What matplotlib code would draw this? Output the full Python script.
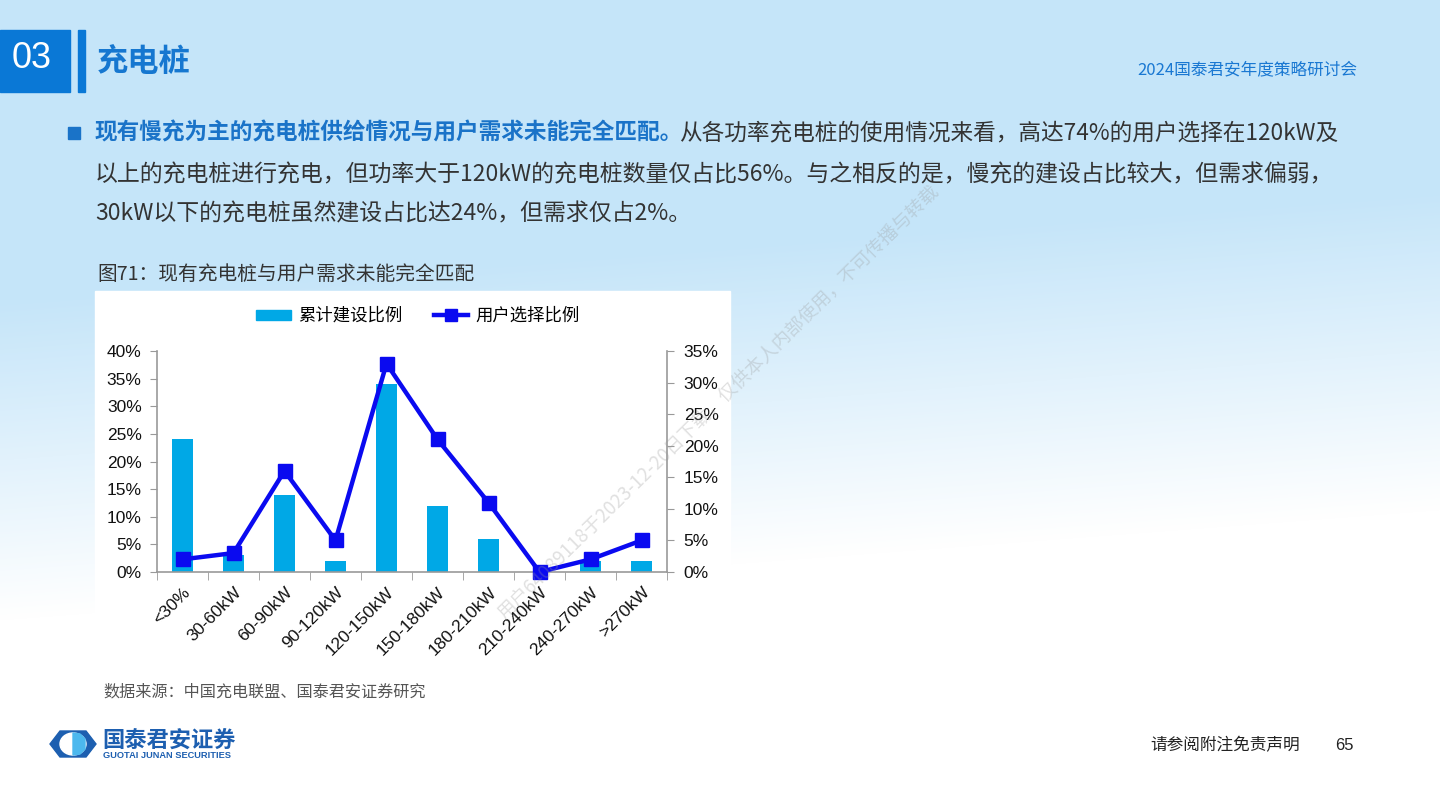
import matplotlib
matplotlib.use('Agg')
import matplotlib.pyplot as plt
import numpy as np
from matplotlib.patches import Rectangle, Polygon, Ellipse, Patch
from matplotlib.lines import Line2D

# ---------------- data ----------------
categories = ['<30%', '30-60kW', '60-90kW', '90-120kW', '120-150kW',
              '150-180kW', '180-210kW', '210-240kW', '240-270kW', '>270kW']
build_share = [24, 3, 14, 2, 34, 12, 6, 0, 2, 2]      # 累计建设比例 (left axis, %)
user_share = [2, 3, 16, 5, 33, 21, 11, 0, 2, 5]       # 用户选择比例 (right axis, %)
left_ticks = [0, 5, 10, 15, 20, 25, 30, 35, 40]
right_ticks = [0, 5, 10, 15, 20, 25, 30, 35]
series_names = ['累计建设比例', '用户选择比例']

CJK = ['Noto Sans CJK SC', 'DejaVu Sans']
LAT = ['Liberation Sans', 'DejaVu Sans']
plt.rcParams['font.family'] = CJK

W, H = 1440, 810
fig = plt.figure(figsize=(14.4, 8.1), dpi=100)

# ---------------- background ----------------
bg = fig.add_axes([0, 0, 1, 1])
bg.set_axis_off()
yy = np.arange(H)[:, None].astype(float)
xf = np.linspace(0, 1, W)[None, :]
start = 300 - 110 * xf
t = np.clip((yy - start) / 320.0, 0, 1)
top = np.array([197, 229, 249]) / 255.0
img = top[None, None, :] * (1 - t[..., None]) + np.ones(3)[None, None, :] * t[..., None]
bg.imshow(img, extent=[0, W, H, 0], aspect='auto', zorder=0)
bg.set_xlim(0, W)
bg.set_ylim(H, 0)

blue = '#0a78d6'
# header
bg.add_patch(Rectangle((0, 30), 70, 62, color=blue, zorder=2))
bg.add_patch(Rectangle((78, 30), 7, 62, color=blue, zorder=2))
bg.text(32, 59, '03', color='white', fontsize=26, family=LAT, ha='center', va='center', zorder=3)
bg.text(97, 62, '充电桩', color='#1677d0', fontsize=22.5, fontweight='bold', ha='left', va='center', zorder=3)
bg.text(1357, 70, '2024国泰君安年度策略研讨会', color='#1a78d2', fontsize=12, ha='right', va='center', zorder=3)

# bullet text
bg.add_patch(Rectangle((68, 127), 12, 12, color='#1a73c8', zorder=2))
fs_body = 16.3
t1 = bg.text(95, 133, '现有慢充为主的充电桩供给情况与用户需求未能完全匹配。', color='#1a73c8',
             fontsize=fs_body, fontweight='bold', ha='left', va='center', zorder=3)
fig.canvas.draw()
r = fig.canvas.get_renderer()
bb = t1.get_window_extent(r)
xe = bg.transData.inverted().transform((bb.x1, bb.y0))[0]
bg.text(xe - 4, 133, '从各功率充电桩的使用情况来看，高达74%的用户选择在120kW及', color='#333333',
        fontsize=fs_body, ha='left', va='center', zorder=3)
bg.text(95, 175, '以上的充电桩进行充电，但功率大于120kW的充电桩数量仅占比56%。与之相反的是，慢充的建设占比较大，但需求偏弱，',
        color='#333333', fontsize=16.5, ha='left', va='center', zorder=3)
bg.text(95, 214, '30kW以下的充电桩虽然建设占比达24%，但需求仅占2%。', color='#333333',
        fontsize=16.5, ha='left', va='center', zorder=3)

# chart title
bg.text(97, 274, '图71：现有充电桩与用户需求未能完全匹配', color='#333333', fontsize=14.2,
        fontweight='medium', ha='left', va='center', zorder=3)
# white chart box
bg.add_patch(Rectangle((95, 291), 635, 380, color='white', zorder=1))

# source
bg.text(103, 692, '数据来源：中国充电联盟、国泰君安证券研究', color='#555555', fontsize=11.6,
        ha='left', va='center', zorder=3)

# logo
bg.add_patch(Polygon([(50, 744), (60, 731), (86, 731), (96, 744), (86, 757), (60, 757)],
                     closed=True, color='#1d5fb0', zorder=2))
bg.add_patch(Ellipse((73, 744), 26, 22, color='white', zorder=3))
bg.add_patch(Polygon([(73, 733), (80, 734), (85, 739), (85, 749), (80, 754), (73, 755)],
                     closed=True, color='#4cb8ee', zorder=4))
bg.text(102, 741, '国泰君安证券', color='#1d5fb0', fontsize=16, fontweight='bold',
        ha='left', va='center', zorder=3)
bg.text(103, 755, 'GUOTAI JUNAN SECURITIES', color='#1d5fb0', fontsize=6.7, fontweight='bold',
        family=LAT, ha='left', va='center', zorder=3)

# footer
bg.text(1150, 746, '请参阅附注免责声明', color='#222222', fontsize=12, ha='left', va='center', zorder=3)
bg.text(1335, 746, '65', color='#222222', fontsize=12, family=LAT, ha='left', va='center', zorder=3)

# ---------------- chart ----------------
ax = fig.add_axes([157 / W, 1 - 572 / H, 510 / W, 221 / H])
ax.patch.set_alpha(0)
x = np.arange(len(categories))
ax.bar(x, build_share, width=0.42, color='#00a8e6', zorder=2)
ax.set_xlim(-0.5, len(categories) - 0.5)
ax.set_ylim(0, 40)
ax.set_yticks(left_ticks)
ax.set_yticklabels([f'{v}%' for v in left_ticks], family=LAT, fontsize=12.5, color='#111111')
ax.set_xticks(x)
ax.set_xticklabels(categories, rotation=45, ha='right', rotation_mode='anchor',
                   family=LAT, fontsize=12.5, color='#111111')
ax.set_xticks(np.arange(-0.5, len(categories)), minor=True)
ax.tick_params(axis='x', which='major', length=0, pad=9)
ax.tick_params(axis='x', which='minor', length=6, color='#999999', direction='out')
ax.tick_params(axis='y', length=5, color='#999999', direction='out', pad=6)
for s in ['top', 'right']:
    ax.spines[s].set_visible(False)
for s in ['left', 'bottom']:
    ax.spines[s].set_color('#999999')
    ax.spines[s].set_linewidth(1.2)

ax2 = ax.twinx()
ax2.plot(x, user_share, color='#0a0af0', lw=3.2, marker='s', ms=10, clip_on=False, zorder=5)
ax2.set_ylim(0, 35)
ax2.set_yticks(right_ticks)
ax2.set_yticklabels([f'{v}%' for v in right_ticks], family=LAT, fontsize=12.5, color='#111111')
ax2.tick_params(axis='y', length=5, color='#999999', direction='out', pad=7)
for s in ['top', 'left', 'bottom']:
    ax2.spines[s].set_visible(False)
ax2.spines['right'].set_color('#999999')
ax2.spines['right'].set_linewidth(1.2)

handles = [Patch(color='#00a8e6'),
           Line2D([], [], color='#0a0af0', lw=3.2, marker='s', ms=9)]
fig.legend(handles, series_names, loc='center', bbox_to_anchor=(418 / W, 1 - 316 / H),
           ncol=2, frameon=False, prop={'family': CJK, 'size': 12.5},
           handlelength=2.0, handleheight=0.5, columnspacing=1.8, handletextpad=0.4)

# watermark overlay
ov = fig.add_axes([0, 0, 1, 1])
ov.set_axis_off()
ov.patch.set_alpha(0)
ov.set_xlim(0, W)
ov.set_ylim(H, 0)
ov.text(718, 402, '用户64089118于2023-12-20日下载，仅供本人内部使用，不可传播与转载',
        rotation=44.5, color='#9a9a9a', alpha=0.3, fontsize=13.5, ha='center', va='center')

fig.savefig('out.png', dpi=100)
